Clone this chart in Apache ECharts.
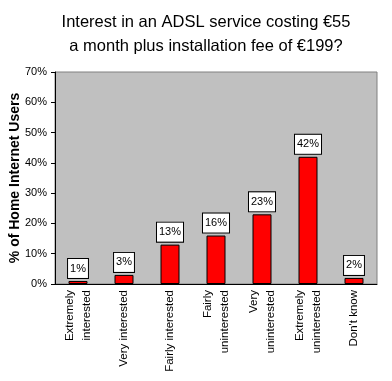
<!DOCTYPE html>
<html><head><meta charset="utf-8">
<script src="https://cdn.jsdelivr.net/npm/echarts@6/dist/echarts.min.js"></script>
<style>html,body{margin:0;padding:0;background:#fff;}#c{width:392px;height:381px;}</style>
</head><body><div id="c"></div>
<script>
const categories = ["Extremely\ninterested", "Very interested", "Fairly interested", "Fairly\nuninterested", "Very\nuninterested", "Extremely\nuninterested", "Don't know"];
const values = [1, 3, 13, 16, 23, 42, 2];
const yTicks = [0, 10, 20, 30, 40, 50, 60, 70];
const titleText = "Interest in an ADSL service costing €55\na month plus installation fee of €199?";
const yName = "% of Home Internet Users";

const chart = echarts.init(document.getElementById('c'));
chart.setOption({
  animation: false,
  backgroundColor: '#fff',
  title: {
    text: titleText,
    left: 201, textAlign: 'center', top: 5,
    textStyle: { fontFamily: 'Liberation Sans', fontSize: 16.5, fontWeight: 'normal', color: '#000', lineHeight: 24 }
  },
  grid: { left: 55, right: 15, top: 72, bottom: 97, outerBoundsMode: 'none', containLabel: false, show: true, backgroundColor: '#C0C0C0', borderColor: '#808080', borderWidth: 1 },
  xAxis: {
    type: 'category', data: categories,
    axisLine: { lineStyle: { color: '#000', width: 1 } },
    axisTick: { show: false },
    axisLabel: { rotate: 90, interval: 0, margin: 6, fontFamily: 'Liberation Sans', fontSize: 11.5, color: '#000', lineHeight: 17 }
  },
  yAxis: {
    type: 'value', min: yTicks[0], max: yTicks[yTicks.length - 1], interval: 10,
    name: yName, nameLocation: 'middle', nameGap: 33, nameRotate: 90, nameMoveOverlap: false,
    nameTextStyle: { fontFamily: 'Liberation Sans', fontSize: 14, fontWeight: 'bold', color: '#000' },
    axisLine: { show: true, lineStyle: { color: '#000', width: 1 } },
    axisTick: { show: true, inside: false, length: 4, lineStyle: { color: '#000' } },
    splitLine: { show: false },
    axisLabel: { margin: 8, formatter: '{value}%', fontFamily: 'Liberation Sans', fontSize: 11, color: '#000' }
  },
  series: [{
    type: 'bar', data: values, barWidth: 19,
    itemStyle: { color: '#FF0000', borderColor: '#000', borderWidth: 1 },
    label: {
      show: true, position: 'top', distance: 3, formatter: '{c}%',
      fontFamily: 'Liberation Sans', fontSize: 11, color: '#000',
      backgroundColor: '#fff', borderColor: '#000', borderWidth: 1, padding: [4, 2, 4, 2]
    }
  }]
});
</script></body></html>
